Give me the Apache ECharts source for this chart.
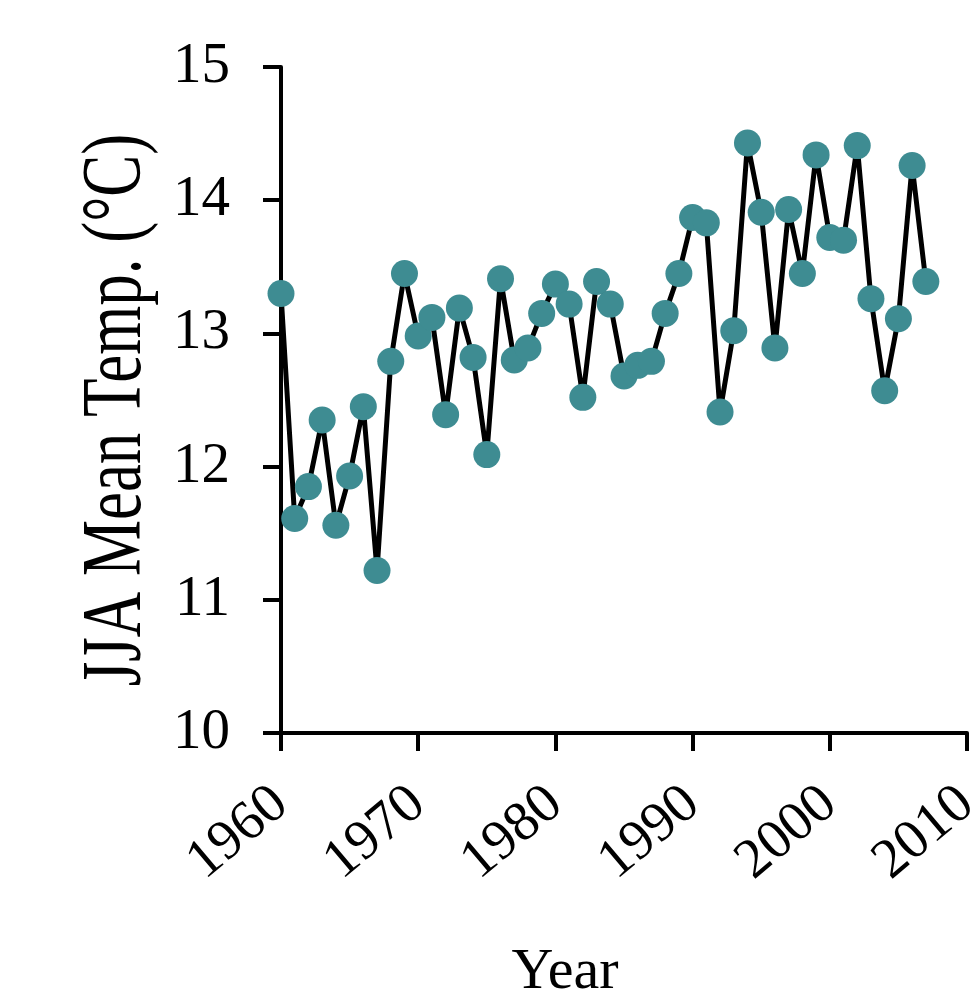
<!DOCTYPE html>
<html><head><meta charset="utf-8">
<script src="https://cdn.jsdelivr.net/npm/echarts@6/dist/echarts.min.js"></script>
<style>html,body{margin:0;padding:0;background:#fff;overflow:hidden}#c{width:978px;height:999px}</style>
</head><body><div id="c"></div>
<script>
const years = [1960,1961,1962,1963,1964,1965,1966,1967,1968,1969,
  1970,1971,1972,1973,1974,1975,1976,1977,1978,1979,
  1980,1981,1982,1983,1984,1985,1986,1987,1988,1989,
  1990,1991,1992,1993,1994,1995,1996,1997,1998,1999,
  2000,2001,2002,2003,2004,2005,2006,2007];
const temps = [13.30,11.61,11.85,12.35,11.56,11.93,12.45,11.22,12.79,13.45,
  12.98,13.12,12.39,13.19,12.82,12.09,13.41,12.80,12.89,13.15,
  13.37,13.22,12.52,13.39,13.22,12.68,12.76,12.79,13.15,13.45,
  13.87,13.83,12.41,13.02,14.43,13.91,12.89,13.93,13.45,14.34,
  13.72,13.70,14.41,13.26,12.57,13.11,14.26,13.39];
const xTickLabels = ['1960','1970','1980','1990','2000','2010'];
const yTickLabels = ['10','11','12','13','14','15'];
const xTitle = 'Year';
const yTitle = 'JJA Mean Temp. (°C)';

const FONT = '"Liberation Serif", "Times New Roman", serif';
const data = years.map((y, i) => [y, temps[i]]);

const chart = echarts.init(document.getElementById('c'), null, {renderer: 'canvas'});
chart.setOption({
  animation: false,
  backgroundColor: '#fff',
  grid: {left: 281, right: 11, top: 67, bottom: 266, containLabel: false, outerBoundsMode: 'none'},
  xAxis: {
    type: 'value', min: 1960, max: 2010, interval: 10,
    axisLine: {show: true, lineStyle: {color: '#000', width: 4}},
    axisTick: {show: true, length: 18, lineStyle: {color: '#000', width: 4}},
    splitLine: {show: false},
    axisLabel: {
      rotate: 40, margin: 64, fontSize: 56, fontFamily: FONT, color: '#000',
      formatter: v => xTickLabels[Math.round((v - 1960) / 10)]
    }
  },
  yAxis: {
    type: 'value', min: 10, max: 15, interval: 1,
    axisLine: {show: true, lineStyle: {color: '#000', width: 4}},
    axisTick: {show: true, length: 18, lineStyle: {color: '#000', width: 4}},
    splitLine: {show: false},
    axisLabel: {
      margin: 51, fontSize: 57, fontFamily: FONT, color: '#000',
      formatter: v => yTickLabels[Math.round(v - 10)]
    }
  },
  graphic: [
    {type: 'text', x: 565, y: 973, style: {text: xTitle, fontSize: 58, fontFamily: FONT, fill: '#000', align: 'center', verticalAlign: 'middle'}},
    {type: 'text', x: 118, y: 410, rotation: Math.PI / 2, scaleY: 1.35,
     style: {text: yTitle, fontSize: 63, fontFamily: FONT, fill: '#000', align: 'center', verticalAlign: 'middle'}}
  ],
  series: [{
    type: 'line', data: data,
    symbol: 'circle', symbolSize: 27,
    lineStyle: {color: '#000', width: 5},
    itemStyle: {color: '#3e8c92', borderWidth: 0},
    z: 3
  }]
});
</script>
</body></html>
